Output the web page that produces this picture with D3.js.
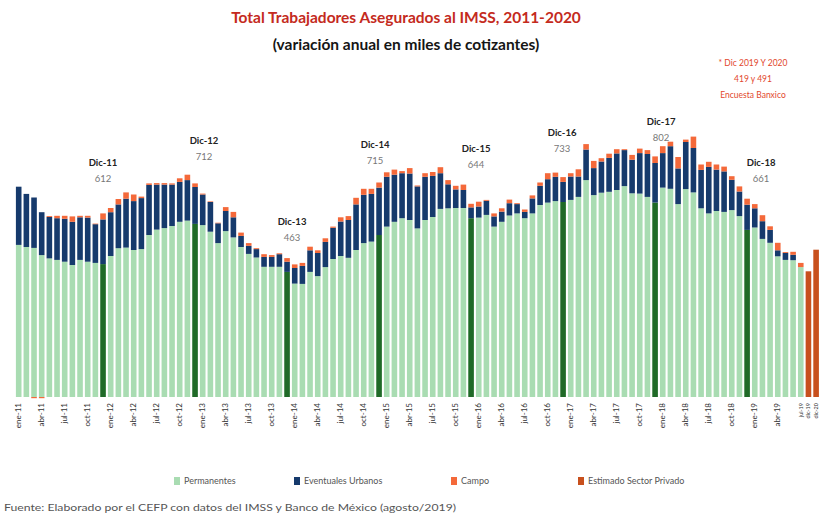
<!DOCTYPE html>
<html><head><meta charset="utf-8">
<script src="https://cdn.jsdelivr.net/npm/d3@7"></script>
<style>body{margin:0;background:#fff} svg{display:block;font-family:Lato,'Open Sans',sans-serif}</style>
</head><body><svg id="c" width="820" height="517"></svg>
<script>
// ---------- data ----------
const monthNames = ["ene","feb","mar","abr","may","jun","jul","ago","sep","oct","nov","dic"];
const years = ["11","12","13","14","15","16","17","18","19"];
const nObserved = 103; // ene-11 .. jul-19
const estLabels = ["dic-19","dic-20"];

const permanentes = [507,500,497,473,462,457,451,440,457,451,447,443,
 470,496,498,490,493,540,558,563,570,584,588,577,
 573,551,513,553,532,500,477,465,434,434,434,417,
 378,377,417,403,433,460,470,464,490,513,518,540,
 568,584,596,590,562,590,600,627,629,630,630,596,
 598,607,568,584,605,612,596,612,640,648,653,650,
 657,667,723,673,681,684,690,703,679,678,667,648,
 698,694,643,693,682,629,612,620,617,623,603,557,
 565,527,514,469,457,456,433];
const eventuales = [194,177,168,143,138,139,143,144,142,147,129,149,
 146,146,163,163,170,167,150,145,138,133,135,123,
 102,99,66,67,67,37,27,28,33,33,42,34,
 52,60,72,77,84,104,115,126,152,161,159,158,
 166,157,150,155,140,144,137,119,80,62,60,36,
 37,47,34,34,41,31,21,50,64,78,81,67,
 78,68,102,90,104,113,122,120,112,135,143,132,
 115,142,119,157,148,128,155,138,135,101,82,84,
 64,59,43,20,23,18,0];
const campo = [0,0,-4,-4,3,8,10,18,5,6,2,20,
 14,18,21,22,5,5,5,5,4,12,18,12,
 3,2,2,13,18,11,9,3,9,6,3,12,
 12,10,12,9,12,4,14,13,22,20,17,17,
 15,17,7,18,3,12,13,20,14,12,18,12,
 16,3,10,11,12,3,8,10,11,20,14,16,
 11,24,18,24,11,14,14,3,16,15,13,22,
 23,15,38,8,38,18,17,17,16,12,17,20,
 14,20,12,25,3,10,14];
const estimado = [419, 491];

const decLabels = ["Dic-11","Dic-12","Dic-13","Dic-14","Dic-15","Dic-16","Dic-17","Dic-18"];
const decValues = [612,712,463,715,644,733,802,661];

const titleText = "Total Trabajadores Asegurados al IMSS, 2011-2020";
const subtitleText = "(variación anual en miles de cotizantes)";
const noteLines = ["* Dic 2019 Y 2020","419 y 491","Encuesta Banxico"];
const legendNames = ["Permanentes","Eventuales Urbanos","Campo","Estimado Sector Privado"];
const sourceText = "Fuente: Elaborado por el CEFP con datos del IMSS y Banco de México (agosto/2019)";

// ---------- layout (not data) ----------
const decLabelNudge = [[0,-51],[9,-43],[5,-36],[-4,-38],[5,-55],[-1,-44],[6,-35],[14,-36]];
const colors = {perm:"#a9dcb2", permDec:"#1f6a27", event:"#163a6c", campo:"#f4693a", est:"#c8501d"};

// ---------- build rows ----------
const months = [];
years.forEach(y => monthNames.forEach(m => months.push(m + "-" + y)));
const cats = months.slice(0, nObserved).concat(estLabels);
const rows = cats.map((c, i) => i < nObserved
  ? {cat:c, i, perm:permanentes[i], event:eventuales[i], campo:campo[i], est:0, dec:c.startsWith("dic")}
  : {cat:c, i, perm:0, event:0, campo:0, est:estimado[i - nObserved], dec:false});

const svg = d3.select("#c");
const x = d3.scaleBand().domain(cats).range([14.9, 819.9]).paddingInner(0.27).paddingOuter(0.13);
const y = d3.scaleLinear().domain([0, 1000]).range([397, 97]);

const keys = ["perm","event","campo","est"];
const series = d3.stack().keys(keys).offset(d3.stackOffsetDiverging)(rows);

const g = svg.append("g");
series.forEach(s => {
  g.append("g").selectAll("rect").data(s).join("rect")
    .attr("x", d => x(d.data.cat))
    .attr("width", x.bandwidth())
    .attr("y", d => y(Math.max(d[0], d[1])))
    .attr("height", d => Math.abs(y(d[0]) - y(d[1])))
    .attr("fill", d => s.key === "perm" ? (d.data.dec ? colors.permDec : colors.perm) : colors[s.key]);
});

// x axis labels (rotated)
const tickCats = cats.filter((c, i) => i < 100 && i % 3 === 0);
const axis = d3.axisBottom(x).tickValues(tickCats).tickSize(0).tickPadding(0);
const ax = svg.append("g").attr("transform", "translate(0,397)").call(axis);
ax.select(".domain").remove();
ax.selectAll("text")
  .attr("transform", "rotate(-90)")
  .attr("x", -6).attr("y", 0).attr("dy", "0.32em")
  .style("text-anchor", "end")
  .attr("font-size", 8).attr("fill", "#333").attr("font-family", "Lato,'Open Sans',sans-serif");

// squeezed labels for the last bars
const lastCats = cats.slice(nObserved - 1);
svg.append("g").selectAll("text").data(lastCats).join("text")
  .attr("transform", d => `translate(${x(d) + x.bandwidth()/2},${403}) rotate(-90)`)
  .attr("dy", "0.32em").attr("text-anchor", "end")
  .attr("font-size", 5.5).attr("fill", "#333").text(d => d);

// December annotations
const decCats = cats.filter(c => c.startsWith("dic") && cats.indexOf(c) < nObserved);
const ann = svg.append("g").selectAll("g").data(decLabels).join("g")
  .attr("transform", (d, k) => {
    const cx = x(decCats[k]) + x.bandwidth()/2 + decLabelNudge[k][0];
    const cy = y(decValues[k]) + decLabelNudge[k][1];
    return `translate(${cx},${cy})`;
  });
ann.append("text").attr("text-anchor", "middle").attr("dy", "0.35em")
  .attr("font-size", 9.5).attr("font-weight", "bold").attr("fill", "#222").text(d => d);
ann.append("text").attr("text-anchor", "middle").attr("dy", "0.35em").attr("y", 16)
  .attr("font-size", 9.5).attr("fill", "#777").text((d, k) => decValues[k]);

// titles
svg.append("text").attr("x", 406).attr("y", 23).attr("text-anchor", "middle")
  .attr("font-size", 15.5).attr("font-weight", "bold").attr("fill", "#c42a20").text(titleText);
svg.append("text").attr("x", 406).attr("y", 50).attr("text-anchor", "middle")
  .attr("font-size", 15.5).attr("font-weight", "bold").attr("fill", "#151515").text(subtitleText);

// note
svg.append("g").selectAll("text").data(noteLines).join("text")
  .attr("x", 753).attr("y", (d, i) => 66 + i * 16).attr("text-anchor", "middle")
  .attr("font-size", 8.5).attr("fill", "#e2472c").text(d => d);

// legend
const legendColors = [colors.perm, colors.event, colors.campo, colors.est];
const legendX = [174, 294, 451, 578];
const lg = svg.append("g").selectAll("g").data(legendNames).join("g")
  .attr("transform", (d, i) => `translate(${legendX[i]},481)`);
lg.append("rect").attr("x", 0).attr("y", -4).attr("width", 6).attr("height", 8)
  .attr("fill", (d, i) => legendColors[i]);
lg.append("text").attr("x", 10).attr("dy", "0.35em").attr("font-size", 9)
  .attr("fill", "#555").text(d => d);

// source
svg.append("text").attr("x", 4).attr("y", 511).attr("font-size", 8.5)
  .attr("textLength", 452).attr("lengthAdjust", "spacingAndGlyphs")
  .attr("fill", "#555").text(sourceText);
</script></body></html>
